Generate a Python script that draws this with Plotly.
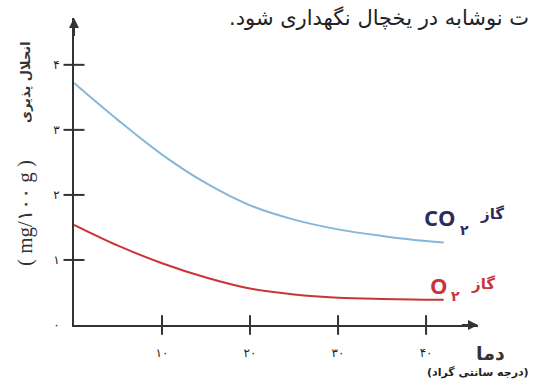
import plotly.graph_objects as go

# Solubility of gases in water vs temperature
temps = [0, 5, 10, 15, 20, 25, 30, 35, 40, 42]
co2 = [3.72, 3.15, 2.62, 2.18, 1.84, 1.62, 1.47, 1.37, 1.29, 1.27]
o2 = [1.54, 1.22, 0.95, 0.73, 0.56, 0.47, 0.42, 0.40, 0.39, 0.39]

x_ticks = [10, 20, 30, 40]
x_tick_labels = ["۱۰", "۲۰", "۳۰", "۴۰"]
y_ticks = [0, 1, 2, 3, 4]
y_tick_labels = ["۰", "۱", "۲", "۳", "۴"]

W, H = 546, 381
ML, MR, MT, MB = 74, 68, 18, 56
PW, PH = W - ML - MR, H - MT - MB
X_MAX, Y_MAX = 45.9, 4.72


def px(x):
    return (x - ML) / PW


def py(y):
    return (H - MB - y) / PH


AXIS = "#333333"
BLUE = "#86b6d8"
RED = "#c8343a"
NAVY = "#2b2b5c"
FA = "DejaVu Sans"

fig = go.Figure()

fig.add_trace(go.Scatter(x=temps, y=co2, mode="lines", line=dict(color=BLUE, width=2, shape="spline"),
                         hoverinfo="skip"))
fig.add_trace(go.Scatter(x=temps, y=o2, mode="lines", line=dict(color=RED, width=2, shape="spline"),
                         hoverinfo="skip"))

# tick crosses on both axes
fig.add_trace(go.Scatter(x=[0] * 4, y=y_ticks[1:], mode="markers", cliponaxis=False,
                         marker=dict(symbol="line-ew", size=15, line=dict(color=AXIS, width=2)),
                         hoverinfo="skip"))
fig.add_trace(go.Scatter(x=x_ticks, y=[0] * 4, mode="markers", cliponaxis=False,
                         marker=dict(symbol="line-ns", size=14, line=dict(color=AXIS, width=2)),
                         hoverinfo="skip"))

fig.update_layout(
    width=W, height=H, margin=dict(l=ML, r=MR, t=MT, b=MB),
    paper_bgcolor="white", plot_bgcolor="white", showlegend=False,
    xaxis=dict(range=[0, X_MAX], showgrid=False, zeroline=False, showline=True, linecolor=AXIS,
               linewidth=2, tickvals=x_ticks, ticktext=x_tick_labels, ticks="",
               ticklabelstandoff=16, tickfont=dict(family=FA, size=12, color="#222")),
    yaxis=dict(range=[0, Y_MAX], showgrid=False, zeroline=False, showline=True, linecolor=AXIS,
               linewidth=2, tickvals=y_ticks, ticktext=y_tick_labels, ticks="",
               ticklabelstandoff=10, tickfont=dict(family=FA, size=12, color="#222")),
)

# arrowheads at axis ends
fig.add_annotation(x=X_MAX, y=0, ax=X_MAX - 2, ay=0, xref="x", yref="y", axref="x", ayref="y",
                   showarrow=True, arrowhead=2, arrowsize=1, arrowwidth=2, arrowcolor=AXIS, text="")
fig.add_annotation(x=0, y=Y_MAX, ax=0, ay=Y_MAX - 0.3, xref="x", yref="y", axref="x", ayref="y",
                   showarrow=True, arrowhead=2, arrowsize=1, arrowwidth=2, arrowcolor=AXIS, text="")


def label(text, x, y, size, color, family=FA, xanchor="center", angle=0, bold=False):
    if bold:
        text = "<b>" + text + "</b>"
    fig.add_annotation(x=px(x), y=py(y), xref="paper", yref="paper", text=text, showarrow=False,
                       xanchor=xanchor, yanchor="middle", textangle=angle,
                       font=dict(family=family, size=size, color=color))


# series labels
label("CO", 422, 217, 22, NAVY, family="Open Sans", xanchor="left", bold=True)
label("۲", 464, 230, 14, NAVY, bold=True)
label("گاز", 492, 214, 15, NAVY, bold=True)
label("O", 428, 285, 22, RED, family="Open Sans", xanchor="left", bold=True)
label("۲", 455, 296, 14, RED, bold=True)
label("گاز", 483, 284, 15, RED, bold=True)

# axis titles
label("انحلال پذیری", 25, 82, 13, "#333", angle=-90, bold=True)
label("( mg/۱۰۰ g )", 25, 213, 21, "#333", family="Liberation Serif", angle=-90)
label("دما", 490, 353, 19, "#333", bold=True)
label("\u200f(درجه سانتی گراد)\u200f", 478, 372, 11, "#222", bold=True)

# caption line above the chart
label("\u200fت نوشابه در یخچال نگهداری شود.\u200f", 531, 18, 21, "#222", xanchor="right")

fig.write_html("out.html")
